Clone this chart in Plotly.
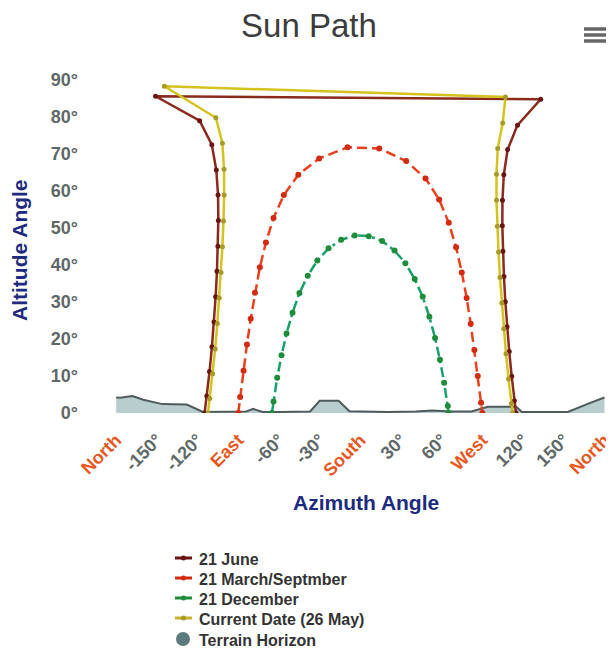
import plotly.graph_objects as go

# ---------------- data ----------------
tick_vals = [-180, -150, -120, -90, -60, -30, 0, 30, 60, 90, 120, 150, 180]
tick_names = ["North", "-150°", "-120°", "East", "-60°", "-30°", "South",
              "30°", "60°", "West", "120°", "150°", "North"]
cardinals = {"North", "East", "South", "West"}
y_ticks = [0, 10, 20, 30, 40, 50, 60, 70, 80, 90]

june_az = [-114.8, -113.2, -111.2, -109.4, -107.9, -106.7, -105.7, -105.0, -104.7, -104.9,
           -106.2, -109.5, -118.5, -151.0, 133.0, 115.9, 108.6, 105.8, 104.8, 104.7,
           105.1, 105.9, 106.9, 108.2, 109.8, 111.6, 113.6, 114.8]
june_alt = [0.0, 4.6, 11.2, 17.9, 24.6, 31.4, 38.3, 45.1, 52.0, 58.9,
            65.7, 72.5, 79.0, 85.6, 84.8, 77.8, 71.2, 64.4, 57.5, 50.6,
            43.7, 36.9, 30.1, 23.3, 16.6, 9.9, 3.3, 0.0]

equinox_az = [-90.0, -88.6, -86.1, -83.6, -80.8, -77.7, -74.1, -69.6, -64.0, -56.4, -45.7, -30.3,
              -9.4, 13.9, 33.8, 48.1, 58.1, 65.2, 70.6, 74.8, 78.4, 81.4, 84.1, 86.6, 89.0, 90.0]
equinox_alt = [0.0, 4.3, 11.4, 18.5, 25.5, 32.5, 39.4, 46.1, 52.7, 58.9, 64.4, 68.8,
               71.8, 71.5, 68.1, 63.4, 57.7, 51.4, 44.8, 38.0, 31.1, 24.1, 17.0, 10.0, 2.8, 0.0]

december_az = [-65.2, -64.0, -61.3, -58.1, -54.4, -50.0, -44.9, -38.8, -31.7, -23.4, -14.1, -4.1,
               6.2, 16.1, 25.2, 33.2, 40.1, 46.0, 50.9, 55.1, 58.7, 61.8, 64.5, 65.2]
december_alt = [0.0, 3.1, 9.5, 15.6, 21.5, 27.1, 32.4, 37.1, 41.2, 44.5, 46.8, 48.0,
                47.8, 46.5, 43.9, 40.5, 36.2, 31.4, 26.0, 20.3, 14.4, 8.2, 1.9, 0.0]

current_az = [-112.3, -111.0, -108.9, -107.0, -105.4, -104.0, -102.7, -101.7, -100.9, -100.4,
              -100.5, -101.7, -106.5, -144.5, 107.0, 105.0, 101.3, 100.4, 100.4, 101.0,
              101.9, 103.0, 104.3, 105.7, 107.4, 109.3, 111.4, 112.3]
current_alt = [0.0, 3.9, 10.6, 17.3, 24.2, 31.1, 38.0, 44.9, 51.9, 58.9,
               65.9, 72.9, 79.8, 88.3, 85.4, 78.4, 71.5, 64.5, 57.5, 50.5,
               43.5, 36.6, 29.7, 22.8, 16.0, 9.2, 2.6, 0.0]

terrain_az = [-180, -177, -168, -160, -146, -128, -116, -100, -84, -79, -72, -60, -45,
              -37, -30, -16, -8, 0, 20, 41, 53, 67, 82, 94, 115, 119, 135, 153, 170, 180]
terrain_alt = [4.2, 4.1, 4.6, 3.6, 2.4, 2.3, 0.3, 0.3, 0.4, 1.1, 0.3, 0.3, 0.3,
               0.4, 3.3, 3.3, 0.5, 0.4, 0.3, 0.4, 0.7, 0.4, 0.4, 1.7, 1.7, 0.3, 0.3, 0.3, 2.8, 4.2]

series_names = ["21 June", "21 March/Septmber", "21 December", "Current Date (26 May)", "Terrain Horizon"]

# ---------------- layout helpers ----------------
OFF = 8                      # default page margin around the plot div
W, H = 614 - OFF, 670 - OFF
# plot area in page pixels
L_PG, R_PG, T_PG, B_PG = 85, 605, 80, 413
L, R, T, B = L_PG - OFF, R_PG - OFF, T_PG - OFF, B_PG - OFF


def px(xp):
    return ((xp - OFF) - L) / (R - L)


def py(yp):
    return (B - (yp - OFF)) / (B - T)


SANS = "'Liberation Sans', Arial, sans-serif"
CARD = "#e5581f"
GRAY = "#5f6868"
NAVY = "#1d2a7e"

colors = {
    "june": ("#8a2a1c", "#6a1414"),
    "equ": ("#e8401c", "#d42a10"),
    "dec": ("#17a06a", "#1e8c3a"),
    "cur": ("#d4c21e", "#a89a26"),
}

fig = go.Figure()

fig.add_trace(go.Scatter(
    x=terrain_az, y=terrain_alt, mode="lines", fill="tozeroy",
    line=dict(color="#4e5b5b", width=2), fillcolor="rgba(160,188,188,0.75)",
    showlegend=False, hoverinfo="skip"))

fig.add_trace(go.Scatter(
    x=june_az, y=june_alt, mode="lines+markers", name=series_names[0],
    line=dict(color=colors["june"][0], width=2.5),
    marker=dict(color=colors["june"][1], size=5)))

fig.add_trace(go.Scatter(
    x=equinox_az, y=equinox_alt, mode="lines+markers", name=series_names[1],
    line=dict(color=colors["equ"][0], width=2.5, dash="10px,5px"),
    marker=dict(color=colors["equ"][1], size=6)))

fig.add_trace(go.Scatter(
    x=december_az, y=december_alt, mode="lines+markers", name=series_names[2],
    line=dict(color=colors["dec"][0], width=2.5, dash="10px,4px,3px,4px"),
    marker=dict(color=colors["dec"][1], size=6)))

fig.add_trace(go.Scatter(
    x=current_az, y=current_alt, mode="lines+markers", name=series_names[3],
    line=dict(color=colors["cur"][0], width=2.5),
    marker=dict(color=colors["cur"][1], size=5)))

tick_text = [f"<span style='color:{CARD}'>{t}</span>" if t in cardinals else t for t in tick_names]

fig.update_xaxes(
    range=[-203, 180.4], tickmode="array", tickvals=tick_vals, ticktext=tick_text,
    tickangle=-45, showgrid=False, zeroline=False, showline=False, ticks="",
    tickfont=dict(family=SANS, size=18, color=GRAY, weight="bold"),
    ticklabelstandoff=12, ticklabeloverflow="allow", fixedrange=True)
fig.update_yaxes(
    range=[0, 90], tickmode="array", tickvals=y_ticks,
    ticktext=[f"{v}°" for v in y_ticks], showgrid=False, zeroline=False,
    showline=False, ticks="",
    tickfont=dict(family=SANS, size=18, color=GRAY, weight="bold"),
    ticklabelstandoff=6, fixedrange=True)

# manual legend (compact rows like the reference)
legend_rows = [558, 578, 598, 618, 639]
leg_keys = ["june", "equ", "dec", "cur"]
shapes = []
annotations = []
for i, name in enumerate(series_names):
    yy = legend_rows[i]
    if i < 4:
        lc, mc = colors[leg_keys[i]]
        shapes.append(dict(type="line", xref="paper", yref="paper",
                           x0=px(175), x1=px(192), y0=py(yy), y1=py(yy),
                           line=dict(color=mc if i != 3 else "#c8b030", width=3)))
        shapes.append(dict(type="circle", xref="paper", yref="paper",
                           x0=px(181), x1=px(186), y0=py(yy + 2.5), y1=py(yy - 2.5),
                           fillcolor=mc, line=dict(width=0)))
    else:
        shapes.append(dict(type="circle", xref="paper", yref="paper",
                           x0=px(176), x1=px(190), y0=py(yy + 7), y1=py(yy - 7),
                           fillcolor="#5b7b7d", line=dict(width=0)))
    annotations.append(dict(text=name, x=px(197), y=py(yy + 1.5), xref="paper", yref="paper",
                            showarrow=False, xanchor="left", yanchor="middle",
                            font=dict(family=SANS, size=16, color="#333", weight="bold")))

# hamburger menu icon
for yy in (29, 35, 41):
    shapes.append(dict(type="line", xref="paper", yref="paper", x0=px(584), x1=px(620),
                       y0=py(yy), y1=py(yy), line=dict(color="#666", width=3.5)))

annotations += [
    dict(text="Altitude Angle", x=px(19), y=py(250), xref="paper", yref="paper",
         textangle=-90, showarrow=False, xanchor="center", yanchor="middle",
         font=dict(family=SANS, size=21, color=NAVY, weight="bold")),
    dict(text="Azimuth Angle", x=px(366), y=py(503), xref="paper", yref="paper",
         showarrow=False, xanchor="center", yanchor="middle",
         font=dict(family=SANS, size=21, color=NAVY, weight="bold")),
]

fig.update_layout(
    width=W, height=H,
    margin=dict(l=L, r=W - R, t=T, b=H - B, autoexpand=False),
    paper_bgcolor="white", plot_bgcolor="white",
    title=dict(text="Sun Path", x=(309 - OFF) / W, xanchor="center", xref="container",
               y=1 - (25 - OFF) / H, yanchor="middle",
               font=dict(family=SANS, size=33, color="#3c3c3c")),
    showlegend=False,
    annotations=annotations,
    shapes=shapes,
)

fig.write_html("out.html")
